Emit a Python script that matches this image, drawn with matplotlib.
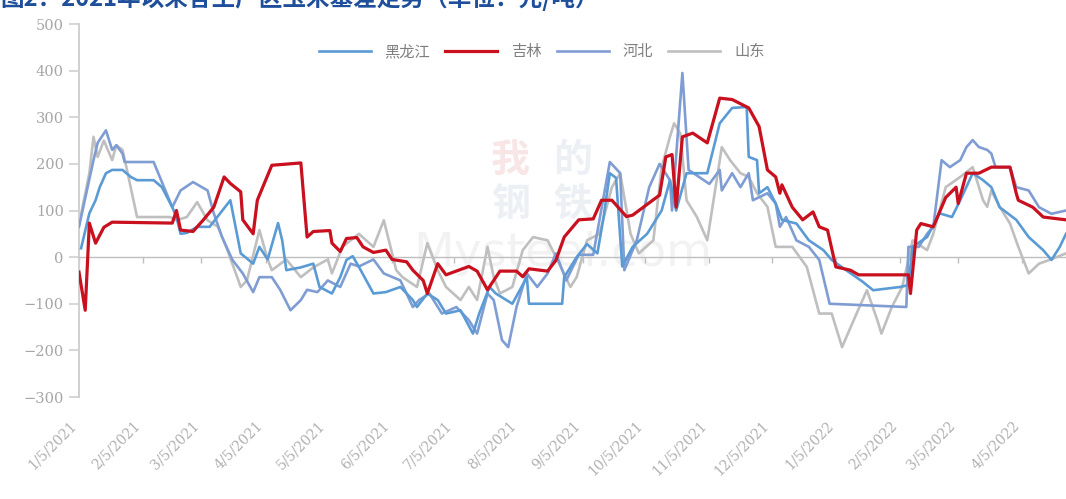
import pandas as pd
import matplotlib.pyplot as plt
import matplotlib.dates as mdates
from matplotlib.ticker import FuncFormatter

plt.rcParams['font.family'] = ['Noto Sans CJK SC', 'DejaVu Sans']

# 黑龙江
hlj_dates = ['2021-01-06', '2021-01-10', '2021-01-13', '2021-01-15', '2021-01-18', '2021-01-21', '2021-01-26',
             '2021-01-30', '2021-02-02', '2021-02-10', '2021-02-14', '2021-02-19', '2021-02-21', '2021-02-23',
             '2021-02-26', '2021-03-03', '2021-03-09', '2021-03-19', '2021-03-24', '2021-03-30', '2021-04-02',
             '2021-04-06', '2021-04-11', '2021-04-13', '2021-04-15', '2021-04-22', '2021-04-28', '2021-05-01',
             '2021-05-07', '2021-05-11', '2021-05-14', '2021-05-17', '2021-05-20', '2021-05-27', '2021-06-02',
             '2021-06-09', '2021-06-15', '2021-06-17', '2021-06-22', '2021-06-27', '2021-07-01', '2021-07-08',
             '2021-07-14', '2021-07-17', '2021-07-22', '2021-07-25', '2021-08-02', '2021-08-09', '2021-08-10',
             '2021-08-26', '2021-08-27', '2021-09-02', '2021-09-07', '2021-09-12', '2021-09-15', '2021-09-18',
             '2021-09-21', '2021-09-24', '2021-09-29', '2021-10-06', '2021-10-13', '2021-10-17', '2021-10-20',
             '2021-10-25', '2021-11-04', '2021-11-10', '2021-11-16', '2021-11-23', '2021-11-24', '2021-11-28',
             '2021-11-29', '2021-12-03', '2021-12-07', '2021-12-10', '2021-12-17', '2021-12-23', '2021-12-30',
             '2022-01-03', '2022-01-10', '2022-01-18', '2022-01-23', '2022-02-05', '2022-02-09', '2022-02-11',
             '2022-02-18', '2022-02-24', '2022-03-02', '2022-03-06', '2022-03-12', '2022-03-17', '2022-03-21',
             '2022-03-25', '2022-04-02', '2022-04-08', '2022-04-15', '2022-04-19', '2022-04-23', '2022-04-26']
hlj_vals = [19, 94, 122, 150, 180, 187, 187,
            172, 165, 165, 150, 107, 86, 50,
            52, 65, 65, 122, 8, -14, 22,
            -5, 73, 36, -28, -22, -14, -64,
            -78, -43, -6, 2, -21, -78, -75,
            -64, -92, -107, -78, -92, -121, -114,
            -164, -121, -64, -78, -100, -43, -100,
            -100, -43, 0, 28, 8, 86, 180,
            170, -20, 22, 50, 100, 165, 100,
            180, 180, 287, 320, 322, 215, 208,
            137, 150, 115, 80, 72, 36, 15,
            -6, -28, -53, -71, -64, -60, 22,
            43, 94, 86, 122, 180, 165, 150,
            107, 80, 43, 15, -6, 22, 50]

# 吉林
jl_dates = ['2021-01-05', '2021-01-08', '2021-01-10', '2021-01-13', '2021-01-17', '2021-01-21', '2021-02-19',
            '2021-02-21', '2021-02-23', '2021-03-01', '2021-03-06', '2021-03-11', '2021-03-16', '2021-03-19',
            '2021-03-24', '2021-03-25', '2021-03-30', '2021-04-01', '2021-04-08', '2021-04-22', '2021-04-25',
            '2021-04-28', '2021-05-06', '2021-05-07', '2021-05-11', '2021-05-14', '2021-05-19', '2021-05-22',
            '2021-05-27', '2021-06-02', '2021-06-05', '2021-06-12', '2021-06-15', '2021-06-20', '2021-06-22',
            '2021-06-27', '2021-07-01', '2021-07-12', '2021-07-16', '2021-07-21', '2021-07-27', '2021-08-04',
            '2021-08-07', '2021-08-10', '2021-08-19', '2021-08-23', '2021-08-27', '2021-09-03', '2021-09-10',
            '2021-09-14', '2021-09-19', '2021-09-26', '2021-09-29', '2021-10-12', '2021-10-15', '2021-10-18',
            '2021-10-20', '2021-10-23', '2021-10-28', '2021-11-04', '2021-11-10', '2021-11-16', '2021-11-24',
            '2021-11-29', '2021-12-03', '2021-12-07', '2021-12-09', '2021-12-10', '2021-12-15', '2021-12-20',
            '2021-12-25', '2021-12-28', '2022-01-01', '2022-01-05', '2022-01-12', '2022-01-16', '2022-02-09',
            '2022-02-10', '2022-02-13', '2022-02-15', '2022-02-21', '2022-02-27', '2022-03-04', '2022-03-05',
            '2022-03-09', '2022-03-15', '2022-03-21', '2022-03-30', '2022-04-02', '2022-04-03', '2022-04-10',
            '2022-04-15', '2022-04-26']
jl_vals = [-32, -114, 73, 30, 64, 75, 73,
           100, 58, 55, 80, 107, 172, 158,
           140, 80, 50, 122, 197, 202, 43,
           55, 57, 30, 12, 40, 42, 22,
           10, 15, -5, -10, -28, -50, -78,
           -14, -38, -20, -30, -70, -30, -30,
           -42, -25, -30, -7, 43, 80, 82,
           122, 122, 87, 90, 133, 215, 220,
           107, 258, 266, 245, 341, 338, 320,
           280, 187, 172, 137, 155, 107, 80,
           97, 65, 58, -21, -28, -38, -38,
           -78, 58, 72, 65, 128, 150, 115,
           180, 180, 193, 193, 137, 122, 107,
           86, 80]

# 河北
hb_dates = ['2021-01-05', '2021-01-12', '2021-01-14', '2021-01-18', '2021-01-21', '2021-01-23', '2021-01-26',
            '2021-01-27', '2021-02-10', '2021-02-19', '2021-02-23', '2021-03-01', '2021-03-08', '2021-03-11',
            '2021-03-15', '2021-03-20', '2021-03-25', '2021-03-30', '2021-04-02', '2021-04-08', '2021-04-12',
            '2021-04-17', '2021-04-22', '2021-04-25', '2021-04-30', '2021-05-05', '2021-05-11', '2021-05-16',
            '2021-05-20', '2021-05-27', '2021-06-01', '2021-06-09', '2021-06-15', '2021-06-18', '2021-06-23',
            '2021-06-29', '2021-07-06', '2021-07-12', '2021-07-16', '2021-07-21', '2021-07-24', '2021-07-28',
            '2021-07-31', '2021-08-04', '2021-08-09', '2021-08-14', '2021-08-19', '2021-08-23', '2021-08-28',
            '2021-09-03', '2021-09-10', '2021-09-18', '2021-09-23', '2021-09-25', '2021-10-01', '2021-10-07',
            '2021-10-12', '2021-10-17', '2021-10-18', '2021-10-23', '2021-10-26', '2021-10-31', '2021-11-05',
            '2021-11-10', '2021-11-11', '2021-11-16', '2021-11-20', '2021-11-24', '2021-11-26', '2021-12-03',
            '2021-12-07', '2021-12-09', '2021-12-12', '2021-12-17', '2021-12-23', '2021-12-28', '2022-01-02',
            '2022-02-08', '2022-02-09', '2022-02-14', '2022-02-18', '2022-02-21', '2022-02-25', '2022-03-01',
            '2022-03-06', '2022-03-09', '2022-03-12', '2022-03-15', '2022-03-19', '2022-03-21', '2022-03-23',
            '2022-03-30', '2022-04-02', '2022-04-08', '2022-04-13', '2022-04-19', '2022-04-26']
hb_vals = [65, 208, 245, 272, 230, 240, 222,
           204, 204, 107, 143, 161, 143, 94,
           43, -6, -35, -75, -43, -43, -70,
           -114, -92, -70, -75, -50, -64, -14,
           -20, -5, -35, -50, -107, -92, -78,
           -121, -107, -135, -164, -78, -92, -178,
           -193, -107, -35, -64, -35, 8, -50,
           5, 5, 204, 180, -28, 36, 150,
           200, 165, 100, 395, 187, 172, 157,
           187, 143, 180, 150, 180, 122, 137,
           115, 65, 86, 36, 22, -6, -100,
           -107, 22, 22, 50, 65, 208, 193,
           208, 236, 251, 236, 230, 222, 193,
           193, 150, 143, 107, 93, 100]

# 山东
sd_dates = ['2021-01-05', '2021-01-10', '2021-01-12', '2021-01-14', '2021-01-17', '2021-01-21', '2021-01-23',
            '2021-01-26', '2021-01-28', '2021-02-02', '2021-02-18', '2021-02-21', '2021-02-26', '2021-03-03',
            '2021-03-08', '2021-03-13', '2021-03-17', '2021-03-24', '2021-03-27', '2021-04-02', '2021-04-06',
            '2021-04-08', '2021-04-15', '2021-04-22', '2021-04-28', '2021-05-05', '2021-05-07', '2021-05-12',
            '2021-05-20', '2021-05-27', '2021-06-01', '2021-06-05', '2021-06-07', '2021-06-10', '2021-06-17',
            '2021-06-22', '2021-06-27', '2021-07-01', '2021-07-08', '2021-07-12', '2021-07-16', '2021-07-21',
            '2021-07-24', '2021-07-27', '2021-08-02', '2021-08-07', '2021-08-12', '2021-08-19', '2021-08-23',
            '2021-08-30', '2021-09-02', '2021-09-07', '2021-09-13', '2021-09-19', '2021-09-23', '2021-09-28',
            '2021-10-02', '2021-10-09', '2021-10-13', '2021-10-17', '2021-10-19', '2021-10-22', '2021-10-25',
            '2021-10-30', '2021-11-04', '2021-11-08', '2021-11-11', '2021-11-15', '2021-11-20', '2021-11-24',
            '2021-11-28', '2021-12-03', '2021-12-07', '2021-12-15', '2021-12-22', '2021-12-28', '2022-01-03',
            '2022-01-08', '2022-01-15', '2022-01-20', '2022-01-25', '2022-01-27', '2022-02-01', '2022-02-06',
            '2022-02-09', '2022-02-11', '2022-02-18', '2022-02-21', '2022-02-27', '2022-03-06', '2022-03-12',
            '2022-03-17', '2022-03-19', '2022-03-21', '2022-03-25', '2022-03-30', '2022-04-03', '2022-04-08',
            '2022-04-13', '2022-04-18', '2022-04-26']
sd_vals = [70, 180, 258, 215, 250, 208, 240,
           230, 190, 86, 86, 79, 86, 118,
           79, 65, 22, -64, -50, 58, -5,
           -28, -5, -43, -22, -5, -35, 22,
           50, 22, 79, 8, -28, -43, -64,
           30, -28, -64, -92, -64, -92, 22,
           -43, -78, -64, 15, 43, 36, 0,
           -64, -43, 36, 50, 150, 180, 50,
           8, 36, 193, 258, 287, 265, 122,
           86, 36, 150, 236, 208, 180, 172,
           137, 108, 22, 22, -21, -121, -121,
           -193, -121, -71, -135, -164, -107, -64,
           -6, 36, 15, 50, 150, 172, 193,
           122, 108, 143, 108, 72, 22, -35,
           -14, -6, 8]

series = [
    ('山东', sd_dates, sd_vals, '#BFBFBF', 1.9, 2),
    ('河北', hb_dates, hb_vals, '#7F9DD3', 1.9, 3),
    ('黑龙江', hlj_dates, hlj_vals, '#5B9BD5', 1.9, 4),
    ('吉林', jl_dates, jl_vals, '#C8101E', 2.3, 5),
]
legend_order = ['黑龙江', '吉林', '河北', '山东']

fig = plt.figure(figsize=(10.66, 4.99), dpi=100)
ax = fig.add_axes([0.0741, 0.2044, 0.9259, 0.7475])

lines = {}
for name, dates, vals, color, lw, z in series:
    lines[name], = ax.plot(pd.to_datetime(dates), vals, color=color, linewidth=lw,
                           zorder=z, solid_joinstyle='round', label=name)

# faint site watermark
wm = dict(fontsize=28, fontweight='bold', ha='center', va='center', zorder=1,
          transform=ax.transAxes)
ax.text(0.437, 0.635, '我', color='#C00000', alpha=0.10, **wm)
ax.text(0.500, 0.635, '的', color='#4A6FA5', alpha=0.10, **wm)
ax.text(0.437, 0.515, '钢', color='#4A6FA5', alpha=0.10, **wm)
ax.text(0.500, 0.515, '铁', color='#4A6FA5', alpha=0.10, **wm)
ax.text(0.49, 0.385, 'Mysteel.com', color='#808080', alpha=0.10, fontsize=34,
        ha='center', va='center', family='DejaVu Sans', transform=ax.transAxes, zorder=1)

ax.set_xlim(pd.Timestamp('2021-01-05'), pd.Timestamp('2022-04-26'))
ax.set_ylim(-300, 500)
ax.set_yticks(range(-300, 501, 100))

ax.xaxis.set_major_locator(mdates.MonthLocator(bymonthday=5))
ax.xaxis.set_major_formatter(FuncFormatter(
    lambda v, pos: (lambda d: f'{d.month}/{d.day}/{d.year}')(mdates.num2date(v))))

for side in ('top', 'right'):
    ax.spines[side].set_visible(False)
ax.spines['left'].set_color('#D0D0D0')
ax.spines['left'].set_linewidth(1.4)
ax.spines['bottom'].set_position(('data', 0))
ax.spines['bottom'].set_color('#BFBFBF')
ax.spines['bottom'].set_linewidth(1.0)

ax.tick_params(axis='y', direction='out', length=7, width=1.2, color='#D0D0D0',
               labelcolor='#A6A6A6', pad=4)
ax.tick_params(axis='x', direction='out', length=4, width=1.0, color='#BFBFBF',
               labelcolor='#B0B0B0', pad=112)
for lab in ax.get_yticklabels():
    lab.set_fontfamily('DejaVu Serif')
    lab.set_fontsize(10.5)
for lab in ax.get_xticklabels():
    lab.set_fontfamily('DejaVu Serif')
    lab.set_fontsize(10)
    lab.set_rotation(45)
    lab.set_ha('right')

leg = ax.legend([lines[n] for n in legend_order], legend_order, loc='center',
                bbox_to_anchor=(0.508, 0.896), bbox_transform=fig.transFigure,
                ncol=4, frameon=False, fontsize=11, handlelength=3.4,
                columnspacing=1.0, handletextpad=0.9)
for t in leg.get_texts():
    t.set_color('#7F7F7F')

# chart heading, sitting partly above the top edge
fig.text(0.0, 0.987, '图2：2021年以来各主产区玉米基差走势（单位：元/吨）', color='#1F4E9A',
         fontsize=17, fontweight='bold', ha='left', va='baseline')

fig.savefig('out.png', dpi=100)
